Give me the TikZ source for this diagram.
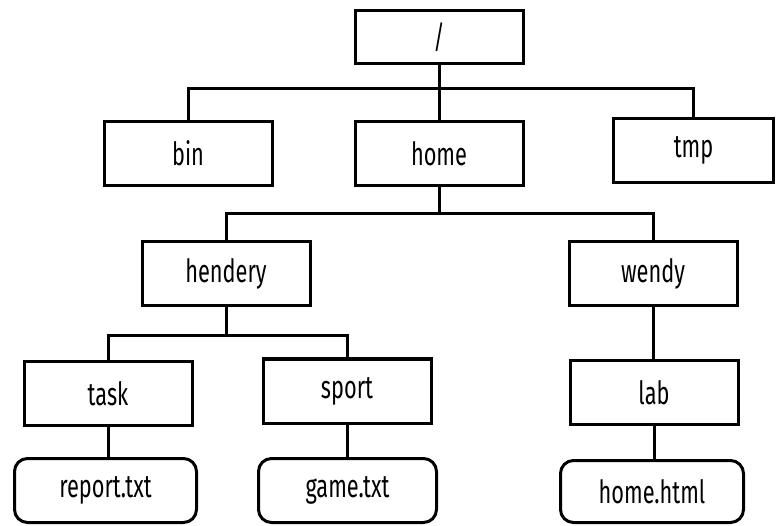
\documentclass[tikz,border=0pt]{standalone}
\usepackage{fontspec}
\setmainfont{Fira Sans}[FakeStretch=0.68]
\tikzset{
    dirbox/.style={draw, line width=3pt, minimum width=168pt, minimum height=64pt, inner sep=0pt,
        font=\fontsize{32}{38}\selectfont},
    filebox/.style={dirbox, minimum width=182pt, rounded corners=13pt},
    link/.style={line width=3pt}
}
\begin{document}
\begin{tikzpicture}[x=1pt, y=-1pt]
        % \draw[help lines, step=50] (0,0) grid (776, 526);
        \useasboundingbox (0,0) rectangle (776,526);

        \draw node[dirbox, minimum height=53pt] (root) at (439, 37) {/};

        \draw node[dirbox] (bin)  at (188, 153.5) {bin};
        \draw node[dirbox] (home) at (439, 153.5) {home};
        \draw node[dirbox, minimum width=160pt] (tmp) at (693.5, 150.5) {tmp};

        \draw node[dirbox] (hendery) at (226, 273.5) {hendery};
        \draw node[dirbox] (wendy)   at (653, 273.5) {wendy};

        \draw node[dirbox] (task)  at (108, 393.5) {task};
        \draw node[dirbox] (sport) at (347, 391) {sport};
        \draw node[dirbox] (lab)   at (654, 392.5) {lab};

        \draw node[filebox] (report) at (105.5, 490.5) {report.txt};
        \draw node[filebox, minimum width=178pt] (game) at (347.5, 490.5) {game.txt};
        \draw node[filebox, minimum width=183pt, minimum height=62pt] (homehtml) at (652, 491.5) {home.html};

        % top level
        \draw[link] (root.south) -- ++(0, 24) coordinate (rootbus);
        \draw[link] (rootbus) -| (bin.north);
        \draw[link] (rootbus) -| (tmp.north);
        \draw[link] (rootbus) -- (rootbus |- home.north);

        % home
        \draw[link] (home.south) -- ++(0, 27) coordinate (homebus);
        \draw[link] (homebus) -| (hendery.north);
        \draw[link] (homebus) -| (wendy.north);

        % hendery
        \draw[link] (hendery.south) -- ++(0, 29) coordinate (henbus);
        \draw[link] (henbus) -| (task.north);
        \draw[link] (henbus) -| (sport.north);

        \draw[link] (wendy.south) -- (wendy.south |- lab.north);
        \draw[link] (task.south) -- (task.south |- report.north);
        \draw[link] (sport.south) -- (sport.south |- game.north);
        \draw[link] (lab.south) -- (lab.south |- homehtml.north);

\end{tikzpicture}
\end{document}
